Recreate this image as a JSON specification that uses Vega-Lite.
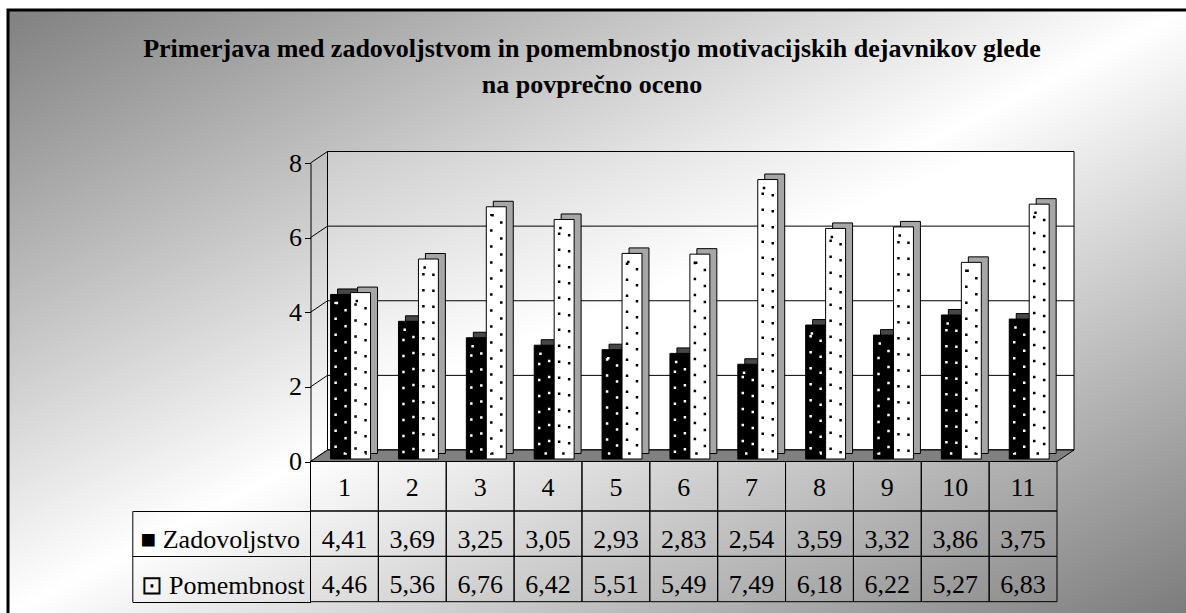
{
  "$schema": "https://vega.github.io/schema/vega-lite/v6.json",
  "width": 1178,
  "height": 603,
  "autosize": {"type": "none"},
  "padding": {"left": 8, "top": 10, "right": 0, "bottom": 0},
  "background": "white",
  "title": {
    "text": ["Primerjava med zadovoljstvom in pomembnostjo motivacijskih dejavnikov glede", "na povprečno oceno"],
    "anchor": "middle",
    "orient": "top",
    "offset": -76,
    "dy": 46,
    "dx": -5,
    "baseline": "alphabetic",
    "font": "Liberation Serif",
    "fontSize": 26,
    "fontWeight": "bold",
    "color": "black",
    "lineHeight": 36
  },
  "datasets": {
    "ocene": [
      {"cat": "1", "serija": "Zadovoljstvo", "vrednost": 4.41},
      {"cat": "1", "serija": "Pomembnost", "vrednost": 4.46},
      {"cat": "2", "serija": "Zadovoljstvo", "vrednost": 3.69},
      {"cat": "2", "serija": "Pomembnost", "vrednost": 5.36},
      {"cat": "3", "serija": "Zadovoljstvo", "vrednost": 3.25},
      {"cat": "3", "serija": "Pomembnost", "vrednost": 6.76},
      {"cat": "4", "serija": "Zadovoljstvo", "vrednost": 3.05},
      {"cat": "4", "serija": "Pomembnost", "vrednost": 6.42},
      {"cat": "5", "serija": "Zadovoljstvo", "vrednost": 2.93},
      {"cat": "5", "serija": "Pomembnost", "vrednost": 5.51},
      {"cat": "6", "serija": "Zadovoljstvo", "vrednost": 2.83},
      {"cat": "6", "serija": "Pomembnost", "vrednost": 5.49},
      {"cat": "7", "serija": "Zadovoljstvo", "vrednost": 2.54},
      {"cat": "7", "serija": "Pomembnost", "vrednost": 7.49},
      {"cat": "8", "serija": "Zadovoljstvo", "vrednost": 3.59},
      {"cat": "8", "serija": "Pomembnost", "vrednost": 6.18},
      {"cat": "9", "serija": "Zadovoljstvo", "vrednost": 3.32},
      {"cat": "9", "serija": "Pomembnost", "vrednost": 6.22},
      {"cat": "10", "serija": "Zadovoljstvo", "vrednost": 3.86},
      {"cat": "10", "serija": "Pomembnost", "vrednost": 5.27},
      {"cat": "11", "serija": "Zadovoljstvo", "vrednost": 3.75},
      {"cat": "11", "serija": "Pomembnost", "vrednost": 6.83}
    ],
    "mreza": [{"v": 0}, {"v": 2}, {"v": 4}, {"v": 6}, {"v": 8}],
    "ena": [{"k": 1}]
  },
  "config": {
    "font": "Liberation Serif",
    "view": {
      "fill": {
        "gradient": "linear", "x1": 0, "y1": 0, "x2": 1, "y2": 1,
        "stops": [
          {"offset": 0, "color": "#808080"},
          {"offset": 0.5, "color": "#ffffff"},
          {"offset": 1, "color": "#7c7c7c"}
        ]
      },
      "stroke": "black",
      "strokeWidth": 3,
      "strokeDash": [1178, 1781, 603, 10]
    },
    "locale": {"number": {"decimal": ",", "thousands": ".", "grouping": [3], "currency": ["", " €"]}}
  },
  "resolve": {"scale": {"y": "independent"}},
  "layer": [
    {
      "resolve": {"scale": {"xOffset": "independent"}},
      "layer": [
        {
          "data": {"name": "ena"},
          "mark": {
            "type": "rect", "xOffset": 17, "x2Offset": 17, "yOffset": -11.5, "y2Offset": -11.5,
            "fill": {
              "gradient": "linear", "x1": 0, "y1": 0, "x2": 1, "y2": 1,
              "stops": [
                {"offset": 0, "color": "#cccccc"},
                {"offset": 0.45, "color": "#ffffff"},
                {"offset": 1, "color": "#ffffff"}
              ]
            },
            "stroke": "black", "strokeWidth": 1
          },
          "encoding": {
            "x": {"datum": "1", "type": "nominal", "bandPosition": 0, "axis": null,
                  "scale": {"type": "band", "domain": ["1","2","3","4","5","6","7","8","9","10","11"], "range": [302.5, 1049], "paddingInner": 0, "paddingOuter": 0}},
            "x2": {"datum": "11", "bandPosition": 1},
            "y": {"datum": 0, "type": "quantitative",
                  "scale": {"domain": [0, 8], "range": [451.5, 153], "nice": false, "zero": true},
                  "axis": {"title": null, "values": [0, 2, 4, 6, 8], "offset": -302.5, "grid": false, "domainColor": "black", "tickColor": "black", "tickSize": 6, "labelFont": "Liberation Serif", "labelFontSize": 26, "labelColor": "black", "labelPadding": 3, "labelFlush": false, "labelOverlap": false}},
            "y2": {"datum": 8}
          }
        },
        {
          "data": {"name": "mreza"},
          "mark": {"type": "rule", "xOffset": 17, "x2Offset": 17, "yOffset": -11.5, "color": "black", "strokeWidth": 1},
          "encoding": {
            "x": {"datum": "1", "type": "nominal", "bandPosition": 0, "axis": null},
            "x2": {"datum": "11", "bandPosition": 1},
            "y": {"field": "v", "type": "quantitative",
                  "axis": {"title": null, "values": [0, 2, 4, 6, 8], "offset": -302.5, "grid": false, "domainColor": "black", "tickColor": "black", "tickSize": 6, "labelFont": "Liberation Serif", "labelFontSize": 26, "labelColor": "black", "labelPadding": 3, "labelFlush": false, "labelOverlap": false}}
          }
        },
        {
          "data": {"name": "mreza"},
          "mark": {"type": "rule", "x2Offset": 17, "y2Offset": -11.5, "color": "black", "strokeWidth": 1},
          "encoding": {
            "x": {"datum": "1", "type": "nominal", "bandPosition": 0, "axis": null},
            "x2": {"datum": "1", "bandPosition": 0},
            "y": {"field": "v", "type": "quantitative",
                  "axis": {"title": null, "values": [0, 2, 4, 6, 8], "offset": -302.5, "grid": false, "domainColor": "black", "tickColor": "black", "tickSize": 6, "labelFont": "Liberation Serif", "labelFontSize": 26, "labelColor": "black", "labelPadding": 3, "labelFlush": false, "labelOverlap": false}},
            "y2": {"field": "v"}
          }
        },
        {
          "data": {"name": "ena"},
          "mark": {
            "type": "point",
            "shape": "M-1,0.01506L0.95547,0.01506L1,-0.01506L-0.95547,-0.01506Z",
            "size": 582932,
            "filled": true,
            "fill": "#808080",
            "stroke": "black",
            "strokeWidth": 1,
            "opacity": 1,
            "fillOpacity": 1,
            "xOffset": 8.5,
            "yOffset": -5.75
          },
          "encoding": {
            "x": {"datum": "6", "type": "nominal", "axis": null},
            "y": {"datum": 0, "type": "quantitative",
                  "axis": {"title": null, "values": [0, 2, 4, 6, 8], "offset": -302.5, "grid": false, "domainColor": "black", "tickColor": "black", "tickSize": 6, "labelFont": "Liberation Serif", "labelFontSize": 26, "labelColor": "black", "labelPadding": 3, "labelFlush": false, "labelOverlap": false}}
          }
        },
        {
          "data": {"name": "ocene"},
          "mark": {"type": "bar", "yOffset": -8, "y2Offset": -8, "stroke": "black", "strokeWidth": 1},
          "encoding": {
            "x": {"field": "cat", "type": "nominal", "axis": null, "sort": null},
            "xOffset": {"field": "serija", "type": "nominal",
                        "scale": {"domain": ["Zadovoljstvo", "Pomembnost"], "paddingOuter": 0.7, "paddingInner": 0, "align": 0.97}},
            "y": {"field": "vrednost", "type": "quantitative",
                  "axis": {"title": null, "values": [0, 2, 4, 6, 8], "offset": -302.5, "grid": false, "domainColor": "black", "tickColor": "black", "tickSize": 6, "labelFont": "Liberation Serif", "labelFontSize": 26, "labelColor": "black", "labelPadding": 3, "labelFlush": false, "labelOverlap": false}},
            "y2": {"datum": 0},
            "fill": {"condition": {"test": "datum.serija === 'Zadovoljstvo'", "value": "#474747"}, "value": "#a6a6a6"}
          }
        },
        {
          "data": {"name": "ocene"},
          "mark": {"type": "bar", "yOffset": -2.5, "y2Offset": -2.5, "stroke": "black", "strokeWidth": 1},
          "encoding": {
            "x": {"field": "cat", "type": "nominal", "axis": null, "sort": null},
            "xOffset": {"field": "serija", "type": "nominal",
                        "scale": {"domain": ["Zadovoljstvo", "Pomembnost"], "paddingOuter": 0.7, "paddingInner": 0, "align": 0.72}},
            "y": {"field": "vrednost", "type": "quantitative",
                  "axis": {"title": null, "values": [0, 2, 4, 6, 8], "offset": -302.5, "grid": false, "domainColor": "black", "tickColor": "black", "tickSize": 6, "labelFont": "Liberation Serif", "labelFontSize": 26, "labelColor": "black", "labelPadding": 3, "labelFlush": false, "labelOverlap": false}},
            "y2": {"datum": 0},
            "fill": {"condition": {"test": "datum.serija === 'Zadovoljstvo'", "value": "#000000"}, "value": "#ffffff"}
          }
        },
        {
          "data": {"name": "ocene"},
          "mark": {"type": "bar", "yOffset": 6, "y2Offset": -8, "fillOpacity": 0, "strokeWidth": 2.5, "strokeDash": [2.5, 13.5], "strokeCap": "butt"},
          "encoding": {
            "x": {"field": "cat", "type": "nominal", "axis": null, "sort": null},
            "xOffset": {"field": "serija", "type": "nominal",
                        "scale": {"domain": ["Zadovoljstvo", "Pomembnost"], "paddingOuter": 0.95, "paddingInner": 0.5, "align": 0.662}},
            "y": {"field": "vrednost", "type": "quantitative",
                  "axis": {"title": null, "values": [0, 2, 4, 6, 8], "offset": -302.5, "grid": false, "domainColor": "black", "tickColor": "black", "tickSize": 6, "labelFont": "Liberation Serif", "labelFontSize": 26, "labelColor": "black", "labelPadding": 3, "labelFlush": false, "labelOverlap": false}},
            "y2": {"datum": 0},
            "stroke": {"condition": {"test": "datum.serija === 'Zadovoljstvo'", "value": "#ffffff"}, "value": "#000000"}
          }
        }
      ]
    },
    {
      "data": {"name": "ocene"},
      "transform": [{"filter": "datum.serija === 'Zadovoljstvo'"}],
      "encoding": {
        "x": {"field": "cat", "type": "nominal", "axis": null, "sort": null},
        "y": {"datum": "h", "type": "nominal", "axis": null,
              "scale": {"type": "band", "domain": ["h"], "range": [451.5, 501], "paddingInner": 0, "paddingOuter": 0}}
      },
      "layer": [
        {"mark": {"type": "rect", "fillOpacity": 0, "stroke": "black", "strokeWidth": 1}},
        {"mark": {"type": "text", "font": "Liberation Serif", "fontSize": 26, "color": "black", "baseline": "middle", "dy": 2},
         "encoding": {"text": {"field": "cat"}}}
      ]
    },
    {
      "data": {"name": "ocene"},
      "encoding": {
        "x": {"field": "cat", "type": "nominal", "axis": null, "sort": null},
        "y": {"field": "serija", "type": "nominal",
              "scale": {"type": "band", "domain": ["Zadovoljstvo", "Pomembnost"], "range": [501, 591.7], "paddingInner": 0, "paddingOuter": 0},
              "axis": {"title": null, "orient": "left", "offset": -124.3, "domainColor": "black", "domainWidth": 1, "tickColor": "black", "tickSize": -178.2, "tickBand": "extent", "labelAlign": "left", "labelPadding": 170.5, "labelOffset": 6, "labelBaseline": "middle", "labelFont": "Liberation Serif", "labelFontSize": 26, "labelColor": "black",
                       "labelExpr": "datum.value === 'Zadovoljstvo' ? '■ Zadovoljstvo' : datum.value === 'Pomembnost' ? '⊡ Pomembnost' : ''"}}
      },
      "layer": [
        {"mark": {"type": "rect", "fillOpacity": 0, "stroke": "black", "strokeWidth": 1}},
        {"mark": {"type": "text", "font": "Liberation Serif", "fontSize": 26, "color": "black", "baseline": "middle", "dy": 6},
         "encoding": {"text": {"field": "vrednost", "type": "quantitative", "format": ".2f"}}}
      ]
    }
  ]
}
